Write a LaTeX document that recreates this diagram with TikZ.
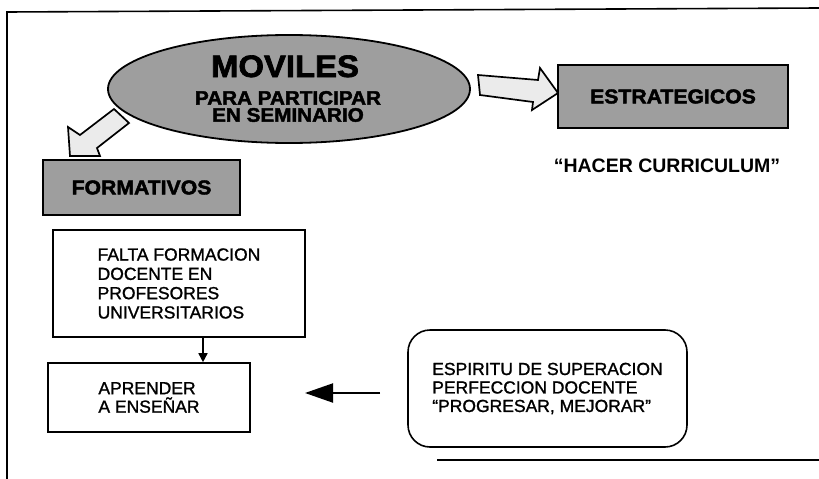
\documentclass[tikz,border=0pt]{standalone}
\usepackage{fontspec}
\setmainfont{Liberation Sans}
\newfontfamily\medfont[FakeBold=1.2]{Liberation Sans}
\newfontfamily\heavyfont[FakeBold=2.2,FakeStretch=1.06]{Liberation Sans Bold}
\usetikzlibrary{arrows.meta,shapes.geometric}
\begin{document}
\begin{tikzpicture}[x=1pt,y=-1pt,
  shaded/.style={fill=black!38},
  hollow/.style={draw=black,line width=1.7pt,fill=black!8,line join=miter},
  box/.style={draw=black,line width=1.6pt,rectangle,inner sep=0pt},
  shbox/.style={box,shaded,font=\heavyfont\fontsize{20}{20}\selectfont},
  txt/.style={font=\medfont\fontsize{17.5}{18.5}\selectfont,align=left},
  conn/.style={line width=1.6pt},
]
\useasboundingbox (0,0) rectangle (819,479);
\fill[white] (0,0) rectangle (819,479);
% frame
\draw[line width=1.6pt] (819,8) -- (7,12) -- (7,479);
\draw[line width=1.8pt] (437,460) -- (819,460);

% hollow arrows
\draw[hollow] (114,109) -- (129,123) -- (97,148) -- (100,156) -- (70,156) -- (68,127) -- (80,135) -- cycle;
\draw[hollow] (478,75) -- (538,80) -- (540,68) -- (558,93) -- (532,110) -- (533,102) -- (480,95) -- cycle;

% ellipse
\node[ellipse, draw, line width=1.8pt, shaded, minimum width=362pt, minimum height=108pt, inner sep=0pt] (mov) at (289,89) {};
\node[anchor=base, inner sep=0pt, text depth=0pt, font=\heavyfont\fontsize{31}{31}\selectfont] (movt) at (285,77) {MOVILES};
\node[inner sep=0pt, align=center, font=\heavyfont\fontsize{19.5}{17}\selectfont] (para) at (288,106.5) {PARA PARTICIPAR\\EN SEMINARIO};

% shaded boxes
\node[shbox, minimum width=197pt, minimum height=55pt] (form) at (141.5,187.5) {FORMATIVOS};
\node[shbox, minimum width=230pt, minimum height=63pt] (estr) at (673,96.5) {ESTRATEGICOS};

\node[anchor=base, inner sep=0pt, font=\bfseries\fontsize{19.5}{19.5}\selectfont] (hacer) at (667,172) {“HACER CURRICULUM”};

% lower boxes
\node[box, txt, font=\medfont\fontsize{17.5}{19.3}\selectfont, minimum width=252pt, minimum height=107pt] (falta) at (179,283.5)
  {FALTA FORMACION\\DOCENTE EN\\PROFESORES\\UNIVERSITARIOS};
\node[box, txt, minimum width=202pt, minimum height=69pt] (apr) at (149,397.5)
  {APRENDER\\A ENSEÑAR};
\node[box, txt, rounded corners=22pt, minimum width=279pt, minimum height=117pt] (esp) at (547.5,388.5)
  {ESPIRITU DE SUPERACION\\PERFECCION DOCENTE\\“PROGRESAR, MEJORAR”};

% connectors
\draw[conn, -{Triangle[length=9pt,width=9pt]}] ([xshift=24pt]falta.south) -- ([xshift=24pt]falta.south |- apr.north);
\coordinate (ltail) at (380,393);
\coordinate (ltip) at (305,393);
\draw[line width=2pt, -{Triangle[length=28pt,width=19pt]}] (ltail) -- (ltip);
\end{tikzpicture}
\end{document}
